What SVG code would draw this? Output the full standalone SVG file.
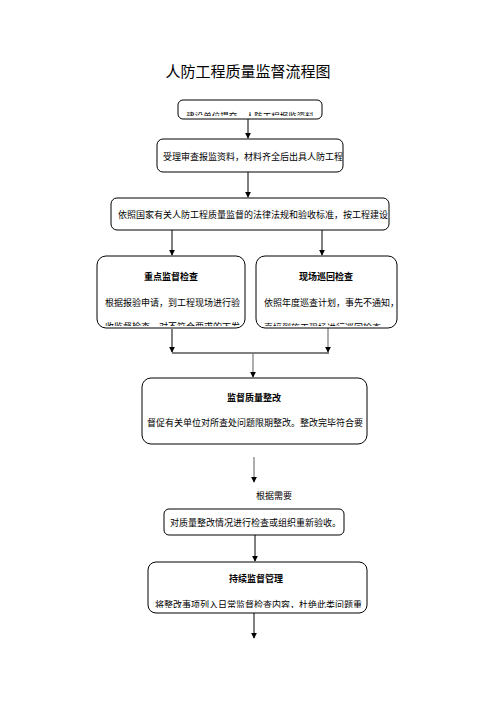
<svg xmlns="http://www.w3.org/2000/svg" width="496" height="702" viewBox="0 0 496 702">
<style>
.box{fill:#fff;stroke:#000;stroke-width:1}
.t{font-family:"Liberation Sans","Noto Sans CJK SC",sans-serif;font-size:9px;fill:#000}
.b{font-weight:bold}
.c{text-anchor:middle}
.ln{stroke:#000;stroke-width:1;fill:none}
.lg{stroke:#777;stroke-width:1.2;fill:none}
</style>
<defs>
<marker id="ah" viewBox="0 0 8 8" refX="7" refY="4" markerWidth="6" markerHeight="6" orient="auto" markerUnits="userSpaceOnUse">
<path d="M0,0 L8,4 L0,8 Z" fill="#000"/>
</marker>
<clipPath id="c1"><rect x="179" y="101" width="142" height="15"/></clipPath>
<clipPath id="c4"><rect x="97" y="256" width="147" height="70"/></clipPath>
<clipPath id="c5"><rect x="257" y="256" width="139" height="70"/></clipPath>
<clipPath id="c9"><rect x="149" y="563" width="217" height="45"/></clipPath>
</defs>
<rect width="496" height="702" fill="#fff"/>
<text class="t c" x="248" y="77" style="font-size:15px">人防工程质量监督流程图</text>

<g id="connectors">
<line class="ln" x1="248" y1="119" x2="248" y2="138" marker-end="url(#ah)"/>
<line class="ln" x1="248" y1="172" x2="248" y2="197" marker-end="url(#ah)"/>
<line class="ln" x1="172" y1="230" x2="172" y2="255" marker-end="url(#ah)"/>
<line class="ln" x1="322" y1="230" x2="322" y2="255" marker-end="url(#ah)"/>
<line class="ln" x1="172" y1="329" x2="172" y2="352" marker-end="url(#ah)"/>
<line class="lg" x1="328" y1="327" x2="328" y2="352" marker-end="url(#ah)"/>
<line class="ln" x1="172" y1="353" x2="329" y2="353"/>
<line class="lg" x1="253" y1="353" x2="253" y2="377" marker-end="url(#ah)"/>
<line class="lg" x1="254" y1="457" x2="254" y2="482" marker-end="url(#ah)"/>
<line class="ln" x1="255" y1="535" x2="255" y2="561" marker-end="url(#ah)"/>
<line class="ln" x1="254" y1="613" x2="254" y2="638" marker-end="url(#ah)"/>
</g>

<g id="n1">
<rect class="box" x="178" y="100" width="144" height="19" rx="5"/>
<text class="t c" x="250" y="119" clip-path="url(#c1)" style="font-size:8.5px">建设单位提交，人防工程报监资料</text>
</g>
<g id="n2">
<rect class="box" x="157" y="139" width="186" height="33" rx="6"/>
<text class="t" x="163" y="160">受理审查报监资料，材料齐全后出具人防工程</text>
</g>
<g id="n3">
<rect class="box" x="111" y="198" width="278" height="32" rx="6"/>
<text class="t" x="118" y="218">依照国家有关人防工程质量监督的法律法规和验收标准，按工程建设</text>
</g>
<g id="n4">
<rect class="box" x="97" y="256" width="148" height="72" rx="9"/>
<text class="t b c" x="171" y="280">重点监督检查</text>
<text class="t" x="105" y="306">根据报验申请，到工程现场进行验</text>
<text class="t" x="105" y="330" clip-path="url(#c4)">收监督检查，对不符合要求的下发</text>
</g>
<g id="n5">
<rect class="box" x="256" y="256" width="141" height="72" rx="9"/>
<text class="t b c" x="326" y="280">现场巡回检查</text>
<text class="t" x="264" y="306">依照年度巡查计划，事先不通知，</text>
<text class="t" x="264" y="331" clip-path="url(#c5)">直接到施工现场进行巡回检查</text>
</g>
<g id="n6">
<rect class="box" x="142" y="378" width="225" height="66" rx="9"/>
<text class="t b c" x="254" y="401">监督质量整改</text>
<text class="t" x="147" y="426">督促有关单位对所查处问题限期整改。整改完毕符合要</text>
</g>
<g id="n7">
<text class="t" x="256" y="499">根据需要</text>
</g>
<g id="n8">
<rect class="box" x="164" y="509" width="180" height="26" rx="5"/>
<text class="t" x="170" y="526">对质量整改情况进行检查或组织重新验收。</text>
</g>
<g id="n9">
<rect class="box" x="148" y="562" width="219" height="51" rx="8"/>
<text class="t b c" x="256" y="582">持续监督管理</text>
<text class="t" x="155" y="608" clip-path="url(#c9)">将整改事项列入日常监督检查内容，杜绝此类问题重</text>
</g>
</svg>
